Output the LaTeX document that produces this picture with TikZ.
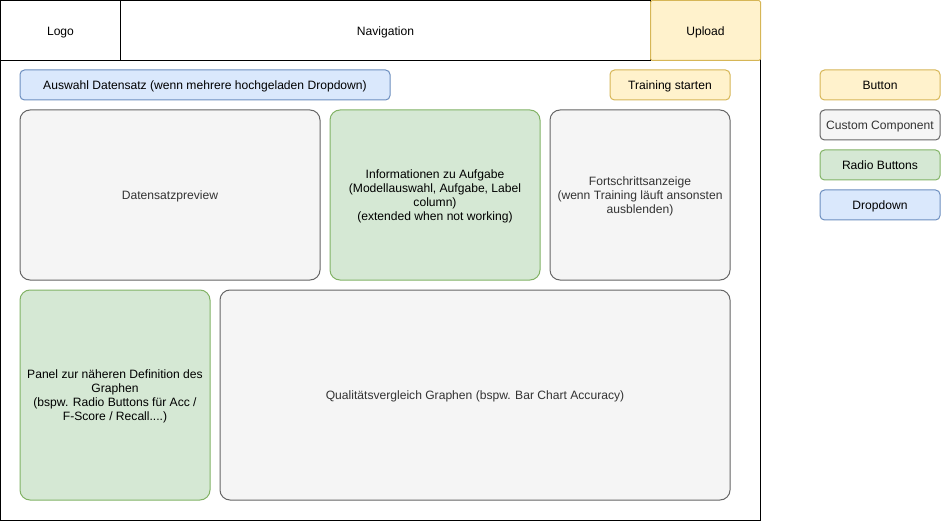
\documentclass[tikz,border=0pt]{standalone}
\usepackage{fontspec}
\setmainfont{Liberation Sans}
\definecolor{ylfill}{HTML}{FFF2CC}
\definecolor{yldraw}{HTML}{D6B656}
\definecolor{bufill}{HTML}{DAE8FC}
\definecolor{budraw}{HTML}{6C8EBF}
\definecolor{grfill}{HTML}{D5E8D4}
\definecolor{grdraw}{HTML}{82B366}
\definecolor{gyfill}{HTML}{F5F5F5}
\definecolor{gydraw}{HTML}{666666}
\definecolor{gytext}{HTML}{333333}
\newcommand{\ls}{\rule[-2.4pt]{0pt}{14pt}}
\newcommand{\diafont}{\fontsize{12.1}{14}\selectfont\setlength{\lineskiplimit}{-20pt}}
\begin{document}
\begin{tikzpicture}[x=1pt,y=-1pt,
  every node/.style={font=\diafont, align=center, inner sep=0pt, outer sep=0pt, anchor=north west, line width=1pt},
  plain/.style={draw=black, fill=white, rectangle},
  btn/.style={draw=yldraw, fill=ylfill, rounded corners=4.5pt},
  drop/.style={draw=budraw, fill=bufill, rounded corners=4.5pt},
  radio/.style={draw=grdraw, fill=grfill, rounded corners=4.5pt},
  custom/.style={draw=gydraw, fill=gyfill, text=gytext, rounded corners=4.5pt},
  bigradio/.style={draw=grdraw, fill=grfill, rounded corners=10pt},
  bigcustom/.style={draw=gydraw, fill=gyfill, text=gytext, rounded corners=10pt}
]
\useasboundingbox (0,0) rectangle (941,521);
% main frame
\node[plain, minimum width=760pt, minimum height=460pt] (frame) at (0.5,60) {};
% header
\node[plain, minimum width=120pt, minimum height=60pt] (logo) at (0.5,0.5) {\ls Logo};
\node[plain, minimum width=530pt, minimum height=60pt] (nav) at (120.5,0.5) {\ls Navigation};
\node[draw=yldraw, fill=ylfill, rounded corners=1.5pt, minimum width=110pt, minimum height=60pt] (upload) at (650.5,0.5) {\ls Upload};
% row 1
\node[drop, minimum width=370pt, minimum height=30pt] (auswahl) at (20,70) {\ls Auswahl Datensatz (wenn mehrere hochgeladen Dropdown)};
\node[btn, minimum width=120pt, minimum height=30pt] (training) at (610,70) {\ls Training starten};
% row 2
\node[bigcustom, minimum width=300pt, minimum height=170pt] (preview) at (20,110) {\ls Datensatzpreview};
\node[bigradio, minimum width=210pt, minimum height=170pt] (info) at (330,110) {\ls Informationen zu Aufgabe\\\ls (Modellauswahl, Aufgabe, Label\\\ls column)\\\ls (extended when not working)};
\node[bigcustom, minimum width=180pt, minimum height=170pt] (fort) at (550,110) {\ls Fortschrittsanzeige\\\ls (wenn Training läuft ansonsten\\\ls ausblenden)};
% row 3
\node[bigradio, minimum width=190pt, minimum height=210pt] (panel) at (20,290) {\ls Panel zur näheren Definition des\\\ls Graphen\\\ls (bspw. Radio Buttons für Acc /\\\ls F-Score / Recall....)};
\node[bigcustom, minimum width=510pt, minimum height=210pt] (quali) at (220,290) {\ls Qualitätsvergleich Graphen (bspw. Bar Chart Accuracy)};
% legend
\node[btn, minimum width=120pt, minimum height=30pt] (lbutton) at (820,70) {\ls Button};
\node[custom, minimum width=120pt, minimum height=30pt] (lcustom) at (820,110) {\ls Custom Component};
\node[radio, minimum width=120pt, minimum height=30pt] (lradio) at (820,150) {\ls Radio Buttons};
\node[drop, minimum width=120pt, minimum height=30pt] (ldrop) at (820,190) {\ls Dropdown};
\end{tikzpicture}
\end{document}
